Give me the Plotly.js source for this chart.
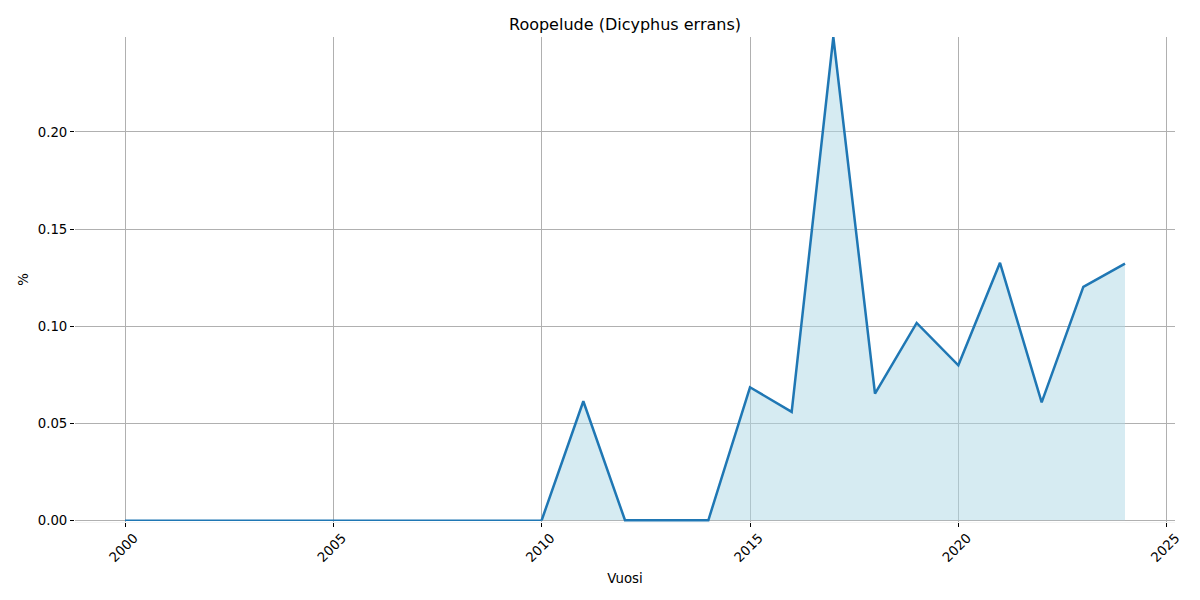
<!DOCTYPE html>
<html>
<head>
<meta charset="utf-8">
<script src="https://cdn.plot.ly/plotly-3.0.1.min.js"></script>
<style>html,body{margin:0;padding:0;background:#fff;}#chart{width:1200px;height:600px;}</style>
</head>
<body>
<div id="chart"></div>
<script>
const titleText = "Roopelude (Dicyphus errans)";
const xTitle = "Vuosi";
const yTitle = "%";
const zeroYears = [2000, 2001, 2002, 2003, 2004, 2005, 2006, 2007, 2008, 2009, 2010];
const zeroValues = [0, 0, 0, 0, 0, 0, 0, 0, 0, 0, 0];
const years = [2010, 2011, 2012, 2013, 2014, 2015, 2016, 2017, 2018, 2019, 2020, 2021, 2022, 2023, 2024];
const values = [0, 0.0613, 0, 0, 0, 0.0685, 0.0558, 0.2489, 0.0652, 0.1016, 0.0798, 0.1326, 0.0607, 0.1202, 0.1322];
const xTicks = [2000, 2005, 2010, 2015, 2020, 2025];
const yTicks = [0, 0.05, 0.10, 0.15, 0.20];

const font = "DejaVu Sans, sans-serif";
const traces = [
  {x: years, y: values, type: 'scatter', mode: 'lines', fill: 'tozeroy',
   fillcolor: 'rgba(173,216,230,0.5)',
   line: {color: '#1f77b4', width: 2.5}, showlegend: false},
  {x: zeroYears, y: zeroValues, type: 'scatter', mode: 'lines',
   line: {color: '#1f77b4', width: 1.5}, hoverinfo: 'skip', showlegend: false}
];
const layout = {
  width: 1200, height: 600,
  margin: {l: 75, r: 25, t: 37, b: 78},
  paper_bgcolor: '#fff', plot_bgcolor: '#fff',
  font: {family: font, color: '#000', size: 13.3},
  title: {text: titleText, x: 0.5, xref: 'paper', y: 0.96, yanchor: 'middle', font: {size: 16, family: font}},
  xaxis: {
    range: [1998.8, 2025.2], tickvals: xTicks, ticktext: xTicks.map(String),
    tickangle: -45, ticks: 'outside', ticklen: 4, tickcolor: '#000',
    ticklabelshift: 9, ticklabelstandoff: -2,
    showgrid: true, gridcolor: '#b0b0b0', gridwidth: 1,
    showline: true, linecolor: 'rgba(0,0,0,0.04)', zeroline: false,
    title: {text: xTitle, font: {size: 13.3}, standoff: 9},
    tickfont: {size: 13.3}
  },
  yaxis: {
    range: [-0.0009, 0.2489], tickvals: yTicks, tickformat: '.2f',
    ticks: 'outside', ticklen: 4, tickcolor: '#000',
    showgrid: true, gridcolor: '#b0b0b0', gridwidth: 1,
    showline: false, zeroline: false,
    title: {text: yTitle, font: {size: 13.3}, standoff: 6},
    tickfont: {size: 13.3}
  }
};
Plotly.newPlot('chart', traces, layout, {staticPlot: true, displayModeBar: false});
</script>
</body>
</html>
